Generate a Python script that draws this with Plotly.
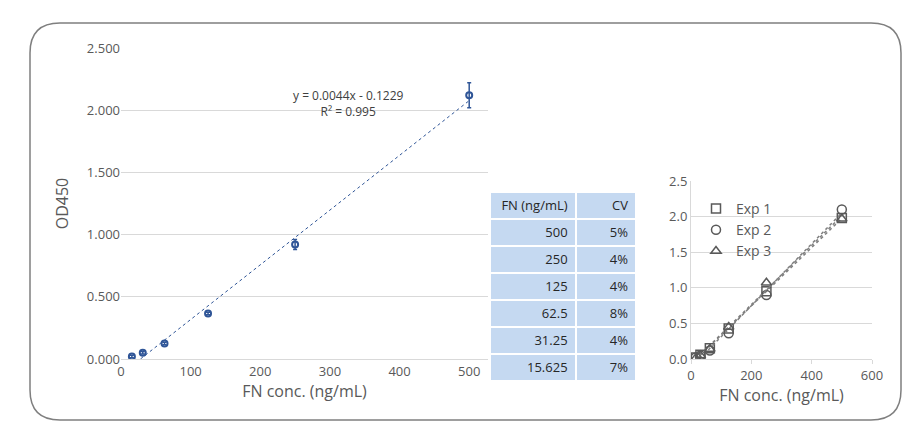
import numpy as np
import plotly.graph_objects as go

W, H = 910, 432

# standard curve (mean of experiments)
conc = [15.625, 31.25, 62.5, 125, 250, 500]
od_mean = [0.02, 0.05, 0.125, 0.365, 0.92, 2.12]
od_err = [0.01, 0.01, 0.01, 0.01, 0.04, 0.10]
slope, intercept = 0.0044, -0.1229

# table
tbl_conc = ["500", "250", "125", "62.5", "31.25", "15.625"]
tbl_cv = ["5%", "4%", "4%", "8%", "4%", "7%"]

# individual experiments
exp1 = [0.02, 0.06, 0.15, 0.43, 0.95, 1.98]
exp2 = [0.02, 0.05, 0.12, 0.36, 0.90, 2.10]
exp3 = [0.01, 0.05, 0.14, 0.45, 1.07, 1.97]

def px(x):
    return x / W

def py(y):
    return 1 - y / H

font = dict(family="Open Sans, sans-serif", size=13, color="#595959")
blue = "#2F5597"

fig = go.Figure()

# left: main curve
xt = [28, 500]
fig.add_trace(go.Scatter(x=xt, y=[slope * v + intercept for v in xt], mode="lines",
                         line=dict(color=blue, width=1, dash="dot"), showlegend=False,
                         xaxis="x", yaxis="y"))
fig.add_trace(go.Scatter(x=conc, y=od_mean, mode="markers",
                         marker=dict(symbol="circle-open", size=6, color=blue, line=dict(width=2)),
                         error_y=dict(type="data", array=od_err, color=blue, thickness=1.5, width=2),
                         showlegend=False, xaxis="x", yaxis="y"))

# right: experiments
gray = "#595959"
for name, vals, sym in [("Exp 1", exp1, "square-open"), ("Exp 2", exp2, "circle-open"),
                        ("Exp 3", exp3, "triangle-up-open")]:
    k, b = np.polyfit(conc, vals, 1)
    fig.add_trace(go.Scatter(x=[15.625, 500], y=[k * 15.625 + b, k * 500 + b], mode="lines",
                             line=dict(color="#7f7f7f", width=1.5, dash="dot"), showlegend=False,
                             xaxis="x2", yaxis="y2"))
    fig.add_trace(go.Scatter(x=conc, y=vals, mode="markers", name=name,
                             marker=dict(symbol=sym, size=9, color=gray, line=dict(width=1.5)),
                             xaxis="x2", yaxis="y2"))

# table
fig.add_trace(go.Table(
    domain=dict(x=[px(482), px(628)], y=[py(380), py(184)]),
    columnwidth=[85, 60],
    header=dict(values=["FN (ng/mL)", "CV"], fill_color="#C5D9F1", align="right",
                line=dict(color="white", width=2), height=27,
                font=dict(family="Open Sans, sans-serif", size=13, color="#262626")),
    cells=dict(values=[tbl_conc, tbl_cv], fill_color="#C5D9F1", align="right",
               line=dict(color="white", width=2), height=27,
               font=dict(family="Open Sans, sans-serif", size=13, color="#262626")),
))

fig.update_layout(
    width=W, height=H, margin=dict(l=0, r=0, t=0, b=0, autoexpand=False),
    paper_bgcolor="white", plot_bgcolor="white", font=font,
    xaxis=dict(domain=[px(113), px(480)], range=[0, 527], tickvals=[0, 100, 200, 300, 400, 500],
               showgrid=False, showline=True, linecolor="#d9d9d9", zeroline=False, automargin=False,
               title=dict(text="FN conc. (ng/mL)", standoff=6), anchor="y"),
    yaxis=dict(domain=[py(351), py(40)], range=[0, 2.5], dtick=0.5, tickformat=".3f",
               showgrid=True, gridcolor="#d9d9d9", zeroline=False, showline=False, automargin=False,
               title=dict(text="OD450", standoff=14), anchor="x"),
    xaxis2=dict(domain=[px(683), px(864)], range=[0, 600], dtick=200, showgrid=False,
                showline=True, linecolor="#d9d9d9", zeroline=False, anchor="y2", automargin=False,
                ticks="outside", ticklen=4, tickcolor="#d9d9d9",
                title=dict(text="FN conc. (ng/mL)", standoff=4)),
    yaxis2=dict(domain=[py(351), py(173)], range=[0, 2.5], dtick=0.5, tickformat=".1f",
                showgrid=True, gridcolor="#d9d9d9", zeroline=False, showline=True, automargin=False,
                linecolor="#d9d9d9", anchor="x2"),
    legend=dict(x=px(688), y=py(185), xanchor="left", yanchor="top", bgcolor="rgba(0,0,0,0)",
                font=dict(size=14, color=gray), itemwidth=30, tracegroupgap=4),
    annotations=[dict(text="y = 0.0044x - 0.1229<br>R² = 0.995", x=px(283), y=py(77),
                      xref="paper", yref="paper", showarrow=False, font=dict(size=12, color="#404040"))],
    shapes=[dict(type="path", xref="paper", yref="paper",
                 path=("M %f,%f L %f,%f Q %f,%f %f,%f L %f,%f Q %f,%f %f,%f L %f,%f Q %f,%f %f,%f "
                       "L %f,%f Q %f,%f %f,%f Z") % (
                     px(52), py(15), px(863), py(15), px(893), py(15), px(893), py(45),
                     px(893), py(382), px(893), py(412), px(863), py(412),
                     px(52), py(412), px(22), py(412), px(22), py(382),
                     px(22), py(45), px(22), py(15), px(52), py(15)),
                 line=dict(color="#7f7f7f", width=1.5))],
)

fig.write_html("out.html")
